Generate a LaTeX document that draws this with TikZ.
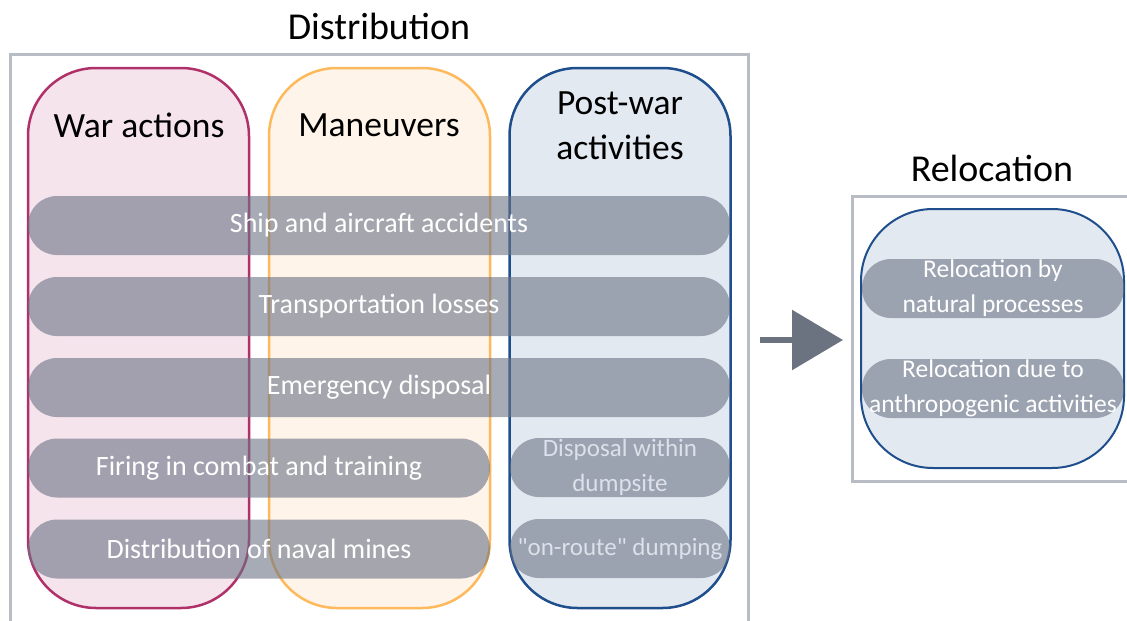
\documentclass[tikz,border=0pt]{standalone}
\usepackage{fontspec}
\setmainfont{Carlito}
\usetikzlibrary{arrows.meta}
\definecolor{framegray}{HTML}{B8BCC4}
\definecolor{warstroke}{HTML}{B0306A}
\definecolor{warfill}{HTML}{F5E4EC}
\definecolor{manstroke}{HTML}{FDB95C}
\definecolor{manfill}{HTML}{FEF4EA}
\definecolor{poststroke}{HTML}{1F4E8C}
\definecolor{postfill}{HTML}{E3E9F1}
\definecolor{barfill}{HTML}{6B7385}
\definecolor{arrowgray}{HTML}{6B7280}
\definecolor{fadetext}{HTML}{DCE1EA}
\begin{document}
\begin{tikzpicture}[x=1pt,y=-1pt,
  frame/.style={rectangle, draw=framegray, line width=3pt, inner sep=0pt},
  capsule/.style={rectangle, rounded corners=68pt, line width=2.5pt, minimum width=221pt, minimum height=540pt, inner sep=0pt},
  bar/.style={rectangle, fill=barfill, fill opacity=0.6, text opacity=1, text=white, rounded corners=29pt, minimum height=59pt, inner sep=0pt, font=\fontsize{28}{32}\selectfont, align=center},
  smallbar/.style={bar, text=fadetext, font=\fontsize{25}{35}\selectfont},
  title/.style={font=\fontsize{38}{42}\selectfont, text=black},
  heading/.style={font=\fontsize{35.5}{45}\selectfont, text=black, align=center},
  bigarrow/.style={line width=6pt, draw=arrowgray, -{Triangle[length=51pt,width=59pt]}}
]
\useasboundingbox (0,0) rectangle (1127,621);
\clip (0,0) rectangle (1127,621);
% frames
\node[frame, minimum width=738pt, minimum height=620pt] (distframe) at (379,364) {};
\node[frame, minimum width=300pt, minimum height=285pt] (relframe) at (1002,338.5) {};
\node[title] (disttitle) at (379,26) {Distribution};
\node[title] (reltitle) at (992,168) {Relocation};
% capsules
\node[capsule, draw=warstroke, fill=warfill] (war) at (138.5,338) {};
\node[capsule, draw=manstroke, fill=manfill] (man) at (379.5,338) {};
\node[capsule, draw=poststroke, fill=postfill] (post) at (620,338) {};
\node[heading] (warh) at (139,125) {War actions};
\node[heading] (manh) at (379,125) {Maneuvers};
\node[heading] (posth) at (620,126) {Post-war\\activities};
% bars
\node[bar, minimum width=702pt] (b1) at (379,225.5) {Ship and aircraft accidents};
\node[bar, minimum width=702pt] (b2) at (379,306.5) {Transportation losses};
\node[bar, minimum width=702pt] (b3) at (379,387.5) {Emergency disposal};
\node[bar, minimum width=462pt] (b4) at (259,468) {Firing in combat and training};
\node[bar, minimum width=462pt] (b5) at (259,549) {Distribution of naval mines};
\node[smallbar, minimum width=220pt] (b6) at (620,467.5) {Disposal within\\dumpsite};
\node[smallbar, minimum width=220pt] (b7) at (620,548.5) {\textquotedbl on-route\textquotedbl{} dumping};
% relocation
\node[capsule, draw=poststroke, fill=postfill, line width=2pt, minimum width=263pt, minimum height=259pt, rounded corners=72pt] (relcap) at (992.5,338.5) {};
\node[bar, font=\fontsize{25.5}{35}\selectfont, minimum width=262pt] (r1) at (993,288.5) {Relocation by\\natural processes};
\node[bar, font=\fontsize{25.5}{35}\selectfont, minimum width=262pt] (r2) at (993,388.5) {Relocation due to\\anthropogenic activities};
% arrow
\coordinate (a1) at (760,340);
\coordinate (a2) at (843,340);
\draw[bigarrow] (a1) -- (a2);
\end{tikzpicture}
\end{document}
